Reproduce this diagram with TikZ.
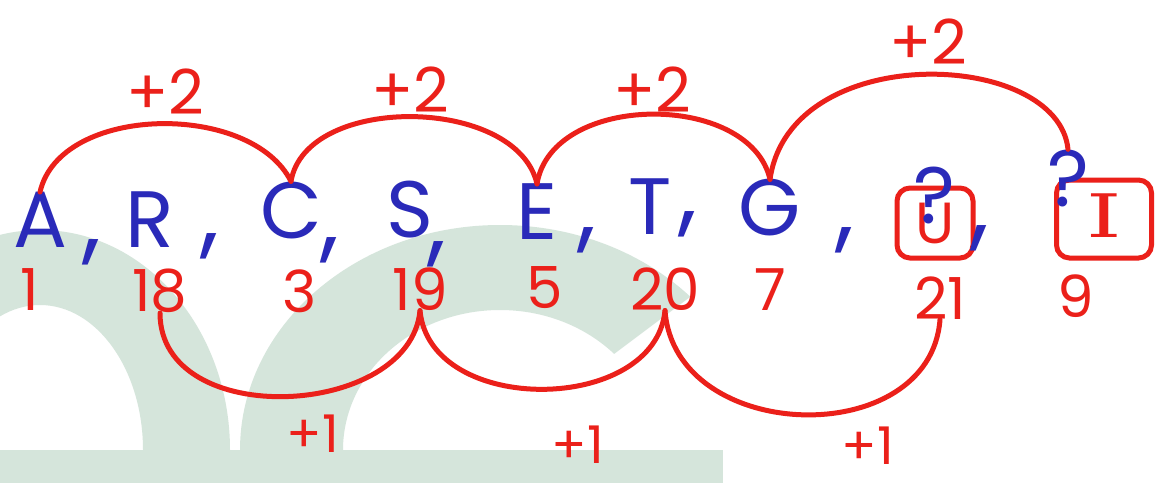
\documentclass[tikz,border=0pt]{standalone}
\usepackage{fontspec}
\setmainfont{Poppins}
\newfontfamily\seriffont{DejaVu Serif}
\definecolor{hblue}{RGB}{42,42,185}
\definecolor{hred}{RGB}{235,32,26}
\definecolor{bggreen}{RGB}{213,229,219}
\tikzset{
  letter/.style={text=hblue, inner sep=0pt, font=\fontsize{80}{80}\selectfont},
  cmark/.style={text=hblue, inner sep=0pt, font=\fontsize{95}{95}\selectfont},
  qmark/.style={text=hblue, inner sep=0pt, font=\fontsize{80}{80}\selectfont},
  num/.style={text=hred, inner sep=0pt, font=\fontsize{58}{58}\selectfont},
  lbl/.style={text=hred, inner sep=0pt, font=\fontsize{62}{62}\selectfont},
  lblone/.style={text=hred, inner sep=0pt, font=\fontsize{52}{52}\selectfont},
  jump/.style={draw=hred, line width=5pt, line cap=round},
  ansbox/.style={draw=hred, line width=5pt, rounded corners=13pt, inner sep=0pt},
}
\begin{document}
\begin{tikzpicture}[x=1pt,y=-1pt]
\useasboundingbox (0,0) rectangle (1155,483);
\fill[white] (0,0) rectangle (1155,483);
% background watermark
\begin{scope}
  \clip (0,0) rectangle (1155,450);
  \fill[bggreen, even odd rule] (40,450) ellipse [x radius=190, y radius=220]
                                (40,450) ellipse [x radius=103, y radius=145];
\end{scope}
\begin{scope}
  \clip (0,0) -- (1086,0) -- (486,450) -- (0,450) -- cycle;
  \fill[bggreen, even odd rule] (500,450) ellipse [x radius=260, y radius=225]
                                (500,450) ellipse [x radius=157, y radius=140];
\end{scope}
\fill[bggreen] (0,450) rectangle (723,483);
% answer boxes
\node[ansbox, minimum width=76pt, minimum height=70pt] (boxU) at (935,223) {};
\node[ansbox, minimum width=95pt, minimum height=78pt] (boxI) at (1104,219) {};
% letters
\node[letter] (A) at (40,220) {A};
\node[letter] (R) at (150,220) {R};
\node[letter] (C) at (291,210) {C};
\node[letter] (S) at (410,210) {S};
\node[letter] (E) at (537,212) {E};
\node[letter] (T) at (650,207) {T};
\node[letter] (G) at (770,208) {G};
\node[text=hred, inner sep=0pt, font=\fontsize{58}{58}\selectfont] (U) at (boxU) {U};
\node[text=hred, inner sep=0pt, font=\fontsize{60}{60}\selectfont] (I) at (1104,216) {\scalebox{1.5}[1]{\seriffont I}};
\node[qmark] (q1) at (934,195) {?};
\node[qmark] (q2) at (1068,178) {?};
% commas
\node[cmark] (c1) at (92,252) {,};
\node[cmark] (c2) at (210,246) {,};
\node[cmark] (c3) at (330,250) {,};
\node[cmark] (c4) at (437,254) {,};
\node[cmark] (c5) at (587,240) {,};
\node[cmark] (c6) at (688,224) {,};
\node[cmark] (c7) at (845,240) {,};
\node[cmark] (c8) at (980,238) {,};
% numbers
\node[num] (n1) at (30,290) {1};
\node[num] (n18) at (160,291) {18};
\node[num] (n3) at (300,291) {3};
\node[num] (n19) at (420,289) {19};
\node[num] (n5) at (545,288) {5};
\node[num] (n20) at (665,289) {20};
\node[num] (n7) at (770,290) {7};
\node[num] (n21) at (940,298) {21};
\node[num] (n9) at (1076,296) {9};
% +2 jumps
\draw[jump] (A.north) .. controls +(20,-88) and +(-40,-80) .. (C.north);
\draw[jump] (C.north) .. controls +(15,-88) and +(-20,-88) .. (E.north);
\draw[jump] (E.north) .. controls +(15,-92) and +(-20,-88) .. (G.north);
\draw[jump] (G.north) .. controls +(20,-140) and +(-10,-100) .. (q2.north);
\node[lbl] (p1) at (165,92) {+2};
\node[lbl] (p2) at (410,90) {+2};
\node[lbl] (p3) at (652,90) {+2};
\node[lbl] (p4) at (928,42) {+2};
% +1 jumps
\draw[jump] (n18.south) .. controls +(0,118) and +(-10,108) .. (n19.south);
\draw[jump] (n19.south) .. controls +(10,106) and +(-10,104) .. (n20.south);
\draw[jump] (n20.south) .. controls +(10,134) and +(-10,132) .. (n21.south);
\node[lblone] (m1) at (313,434) {+1};
\node[lblone] (m2) at (578,445) {+1};
\node[lblone] (m3) at (868,446) {+1};
\end{tikzpicture}
\end{document}
